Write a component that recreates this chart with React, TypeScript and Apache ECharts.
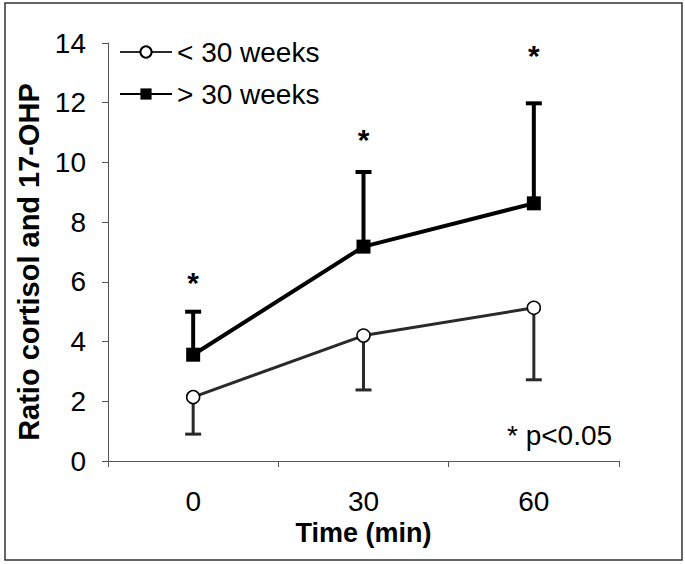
import React, { useEffect, useRef } from "react";
import * as echarts from "echarts";

const categories = ["0", "30", "60"];
const under30 = [2.14, 4.2, 5.13];
const under30Lower = [0.9, 2.38, 2.72];
const over30 = [3.56, 7.18, 8.63];
const over30Upper = [5.0, 9.68, 11.98];
const asteriskY = [6.2, 11.0, 13.8];
const seriesNames = ["< 30 weeks", "> 30 weeks"];
const yTitle = "Ratio cortisol and 17-OHP";
const xTitle = "Time (min)";
const noteText = "* p<0.05";

const FONT = "'Liberation Sans', Arial, sans-serif";

export default function App() {
  const ref = useRef<HTMLDivElement>(null);
  useEffect(() => {
    if (!ref.current) return;
    const chart = echarts.init(ref.current, undefined, { renderer: "svg" });

    const errRender = (color: string, width: number) => (params: any, api: any) => {
      const x = api.value(0);
      const p0 = api.coord([x, api.value(1)]);
      const p1 = api.coord([x, api.value(2)]);
      const style = { stroke: color, lineWidth: width };
      return {
        type: "group",
        children: [
          { type: "line", shape: { x1: p0[0], y1: p0[1], x2: p1[0], y2: p1[1] }, style },
          { type: "line", shape: { x1: p1[0] - 8, y1: p1[1], x2: p1[0] + 8, y2: p1[1] }, style },
        ],
      };
    };

    chart.setOption({
      animation: false,
      backgroundColor: "#fff",
      textStyle: { fontFamily: FONT },
      grid: { left: 108, right: 66, top: 43, bottom: 103 },
      legend: {
        data: seriesNames,
        orient: "vertical",
        left: 114,
        top: 33,
        itemWidth: 52,
        itemHeight: 14,
        itemGap: 14,
        textStyle: { fontSize: 28, color: "#000", fontFamily: FONT },
      },
      xAxis: {
        type: "category",
        data: categories,
        boundaryGap: true,
        name: xTitle,
        nameLocation: "middle",
        nameGap: 56,
        nameTextStyle: { fontSize: 27, fontWeight: "bold", color: "#000", fontFamily: FONT },
        axisLine: { lineStyle: { color: "#555", width: 1 } },
        axisTick: { show: true, length: 6, lineStyle: { color: "#555" }, alignWithLabel: false },
        axisLabel: { fontSize: 28, color: "#000", margin: 26, fontFamily: FONT },
      },
      yAxis: {
        type: "value",
        min: 0,
        max: 14,
        interval: 2,
        axisLine: { show: true, lineStyle: { color: "#555", width: 1 } },
        axisTick: { show: true, length: 6, lineStyle: { color: "#555" } },
        splitLine: { show: false },
        axisLabel: { fontSize: 28, color: "#000", margin: 22, fontFamily: FONT },
      },
      graphic: [
        {
          type: "rect",
          shape: { x: 5, y: 3, width: 677, height: 557 },
          style: { fill: "none", stroke: "#333", lineWidth: 1.5 },
          silent: true,
        },
        {
          type: "text",
          x: 29,
          y: 262,
          rotation: Math.PI / 2,
          style: {
            text: yTitle,
            fontSize: 29,
            fontWeight: "bold",
            fill: "#000",
            fontFamily: FONT,
            align: "center",
            verticalAlign: "middle",
          },
        },
        {
          type: "text",
          left: 507,
          top: 421,
          style: { text: noteText, fontSize: 28, fill: "#000", fontFamily: FONT },
        },
      ],
      series: [
        {
          type: "custom",
          name: "err-under",
          z: 1,
          renderItem: errRender("#2a2a2a", 3),
          data: categories.map((_, i) => [i, under30[i], under30Lower[i]]),
        },
        {
          type: "custom",
          name: "err-over",
          z: 1,
          renderItem: errRender("#000", 4),
          data: categories.map((_, i) => [i, over30[i], over30Upper[i]]),
        },
        {
          type: "line",
          name: seriesNames[0],
          z: 3,
          data: under30,
          symbol: "circle",
          symbolSize: 13,
          lineStyle: { color: "#2a2a2a", width: 3 },
          itemStyle: { color: "#fff", borderColor: "#000", borderWidth: 1.5 },
        },
        {
          type: "line",
          name: seriesNames[1],
          z: 3,
          data: over30,
          symbol: "rect",
          symbolSize: 14,
          lineStyle: { color: "#000", width: 4 },
          itemStyle: { color: "#000" },
        },
        {
          type: "custom",
          name: "stars",
          z: 4,
          renderItem: (params: any, api: any) => {
            const p = api.coord([api.value(0), api.value(1)]);
            return {
              type: "text",
              x: p[0],
              y: p[1] + 7,
              style: {
                text: "*",
                fontSize: 30,
                fontWeight: "bold",
                fontFamily: FONT,
                fill: "#000",
                align: "center",
                verticalAlign: "middle",
              },
            };
          },
          data: categories.map((_, i) => [i, asteriskY[i]]),
        },
      ],
    });
    return () => chart.dispose();
  }, []);
  return (
    <div
      ref={ref}
      style={{ position: "absolute", left: 0, top: 0, width: 685, height: 564 }}
    />
  );
}
